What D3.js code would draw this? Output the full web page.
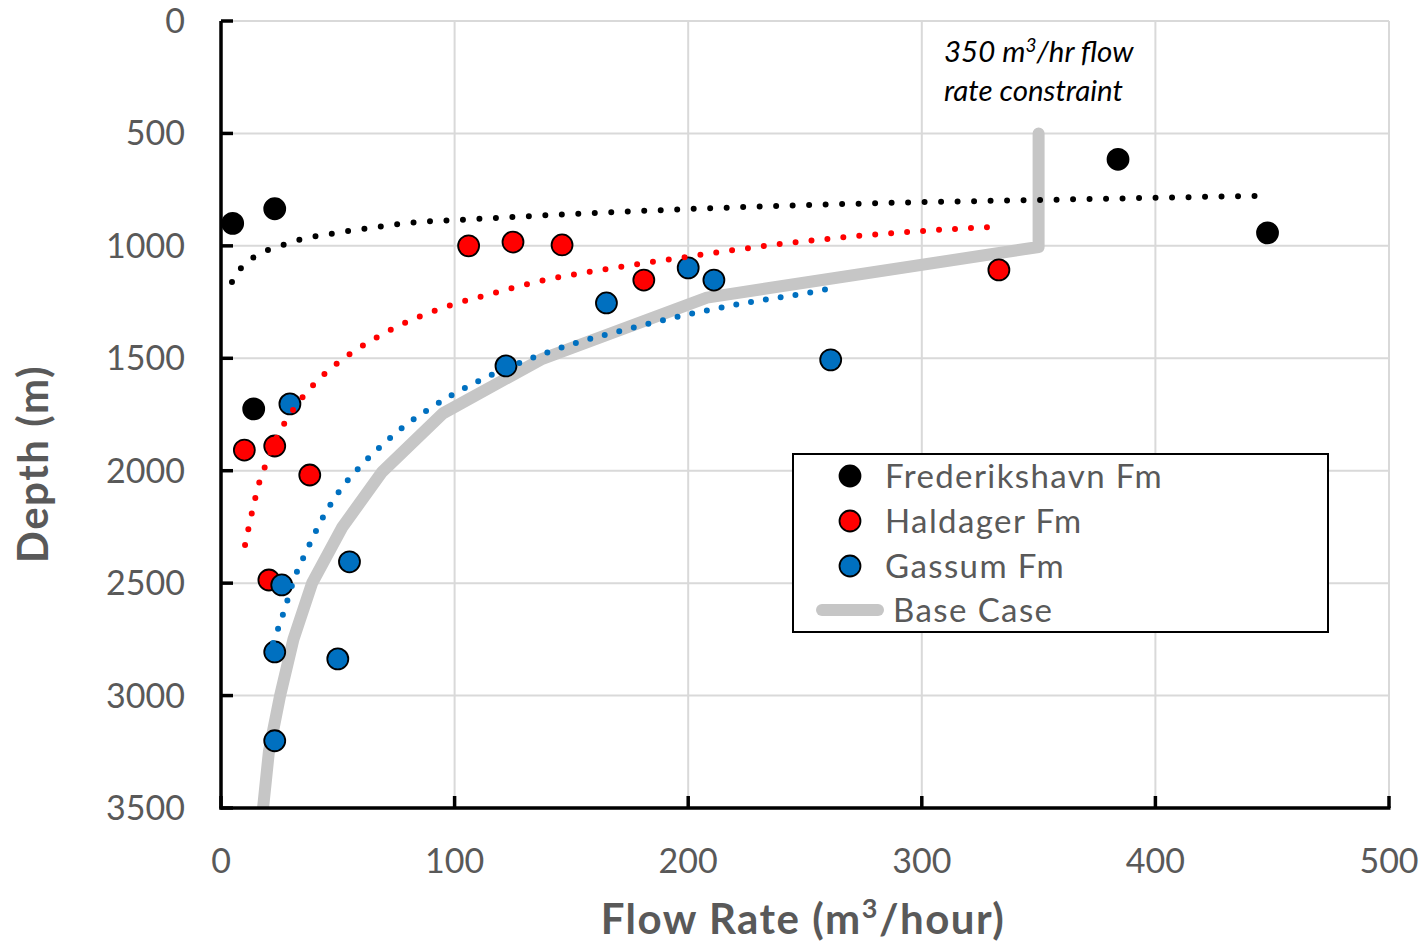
<!DOCTYPE html>
<html lang="en">
<head>
<meta charset="utf-8">
<title>Depth vs flow rate</title>
<script src="https://d3js.org/d3.v7.min.js"></script>
<style type="text/css">
body { margin: 0; background: #fff; }
text { font-family: Lato, "Open Sans", sans-serif; }
</style>
</head>
<body>
<div id="chart"></div>
<script type="text/javascript">
// observed wells: [flow rate m3/hr, depth m]
var frederikshavn = [[5, 900], [23, 835], [14, 1725], [384, 615], [448, 942]];
var haldager = [[106, 1000], [125, 983], [146, 996], [181, 1152], [333, 1107],
                [10, 1908], [23, 1890], [38, 2019], [20.5, 2486]];
var gassum = [[29.5, 1703], [122, 1534], [165, 1254], [200, 1098], [211, 1152],
              [261, 1507], [55, 2405], [26, 2508], [23, 2806], [50, 2837], [23, 3201]];

// trend lines
var trendFred = [[4.7, 1161], [8.6, 1098], [14.1, 1050], [20.1, 1018], [26.5, 996], [33, 974],
                 [46.7, 947], [60.4, 925], [80.9, 898], [108.7, 881], [200.8, 836],
                 [285.5, 809], [349.7, 796], [442.6, 778]];
var trendHald = [[10.3, 2330], [13.3, 2184], [16.7, 2041], [19.3, 1970], [24.8, 1832],
                 [28.3, 1770], [36.8, 1650], [46.7, 1548], [57.8, 1463], [69.3, 1392],
                 [99.7, 1259], [112.2, 1223], [138.7, 1152], [165.2, 1103], [198.6, 1050],
                 [239.3, 992], [287.7, 943], [329.2, 916]];
var trendGass = [[22.3, 2766], [27, 2624], [31.3, 2482], [36.8, 2353], [42.8, 2224],
                 [50.1, 2099], [58.6, 1992], [67.6, 1899], [77.5, 1810], [87.8, 1734],
                 [98.9, 1663], [109.6, 1605], [126.7, 1525], [150.7, 1436], [175.9, 1365],
                 [200.8, 1303], [226.5, 1250], [253.4, 1205], [259.8, 1192]];

// base case curve
var baseDepth = [500, 1005, 1230, 1505, 1745, 2005, 2250, 2500, 2750, 3000, 3250, 3500];
var baseFlow = [350, 350, 208, 137, 95, 69, 52, 39, 31, 25.3, 20.5, 18];

var xTicks = [0, 100, 200, 300, 400, 500];
var yTicks = [0, 500, 1000, 1500, 2000, 2500, 3000, 3500];

var w = 1425, h = 942;
var pLeft = 221, pRight = 1389, pTop = 21, pBottom = 808;
var grey = "#595959";

var xScale = d3.scaleLinear().domain([0, 500]).range([pLeft, pRight]);
var yScale = d3.scaleLinear().domain([0, 3500]).range([pTop, pBottom]);

var svg = d3.select("#chart").append("svg")
  .attr("width", w)
  .attr("height", h);

svg.append("defs").append("clipPath").attr("id", "plot")
  .append("rect")
  .attr("x", pLeft).attr("y", pTop - 20)
  .attr("width", pRight - pLeft).attr("height", pBottom - pTop + 20);

// gridlines
svg.append("g").selectAll("line")
  .data(yTicks)
  .enter().append("line")
  .attr("x1", pLeft).attr("x2", pRight)
  .attr("y1", d => yScale(d)).attr("y2", d => yScale(d))
  .attr("stroke", "#d9d9d9").attr("stroke-width", 2);

svg.append("g").selectAll("line")
  .data(xTicks.slice(1))
  .enter().append("line")
  .attr("x1", d => xScale(d)).attr("x2", d => xScale(d))
  .attr("y1", pTop).attr("y2", pBottom)
  .attr("stroke", "#d9d9d9").attr("stroke-width", 2);

// base case
var base = baseDepth.map((d, i) => [baseFlow[i], d]);
var line = d3.line().x(d => xScale(d[0])).y(d => yScale(d[1]));

svg.append("path")
  .datum(base)
  .attr("clip-path", "url(#plot)")
  .attr("d", line)
  .attr("fill", "none")
  .attr("stroke", "#c6c6c6")
  .attr("stroke-width", 12)
  .attr("stroke-linejoin", "round")
  .attr("stroke-linecap", "round");

// points
var series = [
  {pts: frederikshavn, col: "#000000", trend: trendFred, gap: 16.5},
  {pts: haldager, col: "#ff0000", trend: trendHald, gap: 16},
  {pts: gassum, col: "#0070c0", trend: trendGass, gap: 15}
];

series.forEach(function (s) {
  svg.append("g").selectAll("circle")
    .data(s.pts)
    .enter().append("circle")
    .attr("cx", d => xScale(d[0]))
    .attr("cy", d => yScale(d[1]))
    .attr("r", 10.5)
    .attr("fill", s.col)
    .attr("stroke", "#000")
    .attr("stroke-width", 1.8);
});

var curve = d3.line().curve(d3.curveMonotoneX)
  .x(d => xScale(d[0])).y(d => yScale(d[1]));

series.forEach(function (s) {
  svg.append("path")
    .datum(s.trend)
    .attr("d", curve)
    .attr("fill", "none")
    .attr("stroke", s.col)
    .attr("stroke-width", 6)
    .attr("stroke-linecap", "round")
    .attr("stroke-dasharray", "0 " + s.gap);
});

// axes
svg.append("line")
  .attr("x1", pLeft).attr("x2", pLeft)
  .attr("y1", pTop).attr("y2", pBottom + 1.5)
  .attr("stroke", "#000").attr("stroke-width", 3.5);
svg.append("line")
  .attr("x1", pLeft - 1.5).attr("x2", pRight + 1.5)
  .attr("y1", pBottom).attr("y2", pBottom)
  .attr("stroke", "#000").attr("stroke-width", 3.5);

svg.append("g").selectAll("line")
  .data(yTicks)
  .enter().append("line")
  .attr("x1", pLeft).attr("x2", pLeft + 12)
  .attr("y1", d => yScale(d)).attr("y2", d => yScale(d))
  .attr("stroke", "#000").attr("stroke-width", 3.5);

svg.append("g").selectAll("line")
  .data(xTicks)
  .enter().append("line")
  .attr("x1", d => xScale(d)).attr("x2", d => xScale(d))
  .attr("y1", pBottom).attr("y2", pBottom - 12)
  .attr("stroke", "#000").attr("stroke-width", 3.5);

svg.append("g").selectAll("text")
  .data(yTicks)
  .enter().append("text")
  .attr("x", 185)
  .attr("y", d => yScale(d) + 12)
  .attr("text-anchor", "end")
  .attr("font-size", 34)
  .attr("fill", grey)
  .text(d => d);

svg.append("g").selectAll("text")
  .data(xTicks)
  .enter().append("text")
  .attr("x", d => xScale(d))
  .attr("y", 873)
  .attr("text-anchor", "middle")
  .attr("font-size", 34)
  .attr("fill", grey)
  .text(d => d);

// axis titles
var xt = svg.append("text")
  .attr("x", 803)
  .attr("y", 934)
  .attr("text-anchor", "middle")
  .attr("font-size", 42)
  .attr("font-weight", "bold")
  .attr("letter-spacing", 1.5)
  .attr("fill", grey);
xt.append("tspan").text("Flow Rate (m");
xt.append("tspan").attr("font-size", 27).attr("dy", -16).text("3");
xt.append("tspan").attr("dy", 16).text("/hour)");

svg.append("text")
  .attr("transform", "translate(48,464) rotate(-90)")
  .attr("text-anchor", "middle")
  .attr("font-size", 42)
  .attr("font-weight", "bold")
  .attr("letter-spacing", 1.5)
  .attr("fill", grey)
  .text("Depth (m)");

// annotation
var an = svg.append("text")
  .attr("x", 944)
  .attr("y", 62)
  .attr("font-size", 29.5)
  .attr("font-style", "italic")
  .attr("fill", "#000");
an.append("tspan").text("350 m");
an.append("tspan").attr("font-size", 19).attr("dy", -10).text("3");
an.append("tspan").attr("dy", 10).text("/hr flow");
svg.append("text")
  .attr("x", 944)
  .attr("y", 101)
  .attr("font-size", 29.5)
  .attr("font-style", "italic")
  .attr("fill", "#000")
  .text("rate constraint");

// legend
var legendNames = ["Frederikshavn Fm", "Haldager Fm", "Gassum Fm"];
var lg = svg.append("g");
lg.append("rect")
  .attr("x", 793).attr("y", 454)
  .attr("width", 535).attr("height", 178)
  .attr("fill", "#fff")
  .attr("stroke", "#000").attr("stroke-width", 2);

legendNames.forEach(function (name, i) {
  var yy = 476 + i * 45;
  lg.append("circle")
    .attr("cx", 850).attr("cy", yy).attr("r", 10.5)
    .attr("fill", series[i].col)
    .attr("stroke", "#000").attr("stroke-width", 1.8);
  lg.append("text")
    .attr("x", 885).attr("y", yy + 12)
    .attr("font-size", 33)
    .attr("letter-spacing", 1.4)
    .attr("fill", grey)
    .text(name);
});
lg.append("line")
  .attr("x1", 822).attr("x2", 878)
  .attr("y1", 610).attr("y2", 610)
  .attr("stroke", "#c6c6c6").attr("stroke-width", 12)
  .attr("stroke-linecap", "round");
lg.append("text")
  .attr("x", 893).attr("y", 622)
  .attr("font-size", 33)
  .attr("letter-spacing", 1.4)
  .attr("fill", grey)
  .text("Base Case");
</script>
</body>
</html>
